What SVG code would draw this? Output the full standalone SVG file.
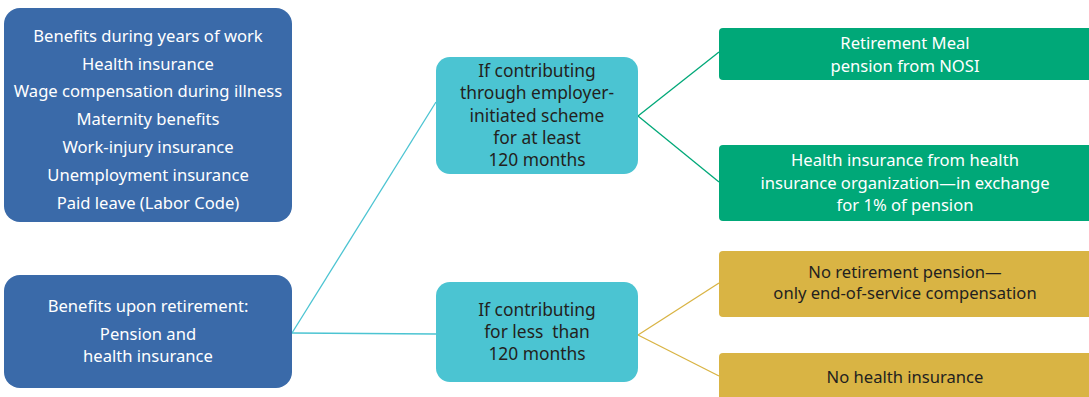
<svg xmlns="http://www.w3.org/2000/svg" width="1089" height="397" viewBox="0 0 1089 397">
<style>
text{font-family:"Noto Sans","Open Sans",sans-serif;font-size:16.6px;text-anchor:middle}
.w{fill:#FFFFFF}
.d{fill:#231F20}
.t{font-size:17.4px}
.blue{fill:#3A6AA9}
.teal{fill:#4BC4D2}
.green{fill:#00A878}
.gold{fill:#D9B444}
.c{fill:none;stroke-width:1.3}
</style>
<rect width="1089" height="397" fill="#FFFFFF"/>
<g id="connectors">
<line class="c" stroke="#4BC4D2" x1="292" y1="333" x2="436" y2="102"/>
<line class="c" stroke="#4BC4D2" x1="292" y1="333" x2="436" y2="334"/>
<line class="c" stroke="#00A878" x1="638" y1="116" x2="719" y2="52"/>
<line class="c" stroke="#00A878" x1="638" y1="116" x2="719" y2="182"/>
<line class="c" stroke="#D9B444" x1="638" y1="335" x2="719" y2="283"/>
<line class="c" stroke="#D9B444" x1="638" y1="335" x2="719" y2="376"/>
</g>
<g id="work">
<rect class="blue" x="4" y="8" width="288" height="214" rx="16"/>
<text class="w" x="148" y="42">Benefits during years of work</text>
<text class="w" x="148" y="70">Health insurance</text>
<text class="w" x="148" y="97">Wage compensation during illness</text>
<text class="w" x="148" y="125">Maternity benefits</text>
<text class="w" x="148" y="153">Work-injury insurance</text>
<text class="w" x="148" y="181">Unemployment insurance</text>
<text class="w" x="148" y="209">Paid leave (Labor Code)</text>
</g>
<g id="retirement">
<rect class="blue" x="4" y="275" width="288" height="113" rx="16"/>
<text class="w" x="148" y="312">Benefits upon retirement:</text>
<text class="w" x="148" y="340">Pension and</text>
<text class="w" x="148" y="362">health insurance</text>
</g>
<g id="atleast">
<rect class="teal" x="436" y="57" width="202" height="117" rx="14"/>
<text class="d t" x="537" y="77">If contributing</text>
<text class="d t" x="537" y="99">through employer-</text>
<text class="d t" x="537" y="122">initiated scheme</text>
<text class="d t" x="537" y="144">for at least</text>
<text class="d t" x="537" y="166">120 months</text>
</g>
<g id="lessthan">
<rect class="teal" x="436" y="282" width="202" height="100" rx="14"/>
<text class="d t" x="537" y="316">If contributing</text>
<text class="d t" x="537" y="338" xml:space="preserve">for less  than</text>
<text class="d t" x="537" y="360">120 months</text>
</g>
<g id="pension">
<rect class="green" x="719" y="28" width="376" height="52" rx="4"/>
<text class="w" x="905" y="49">Retirement Meal</text>
<text class="w" x="905" y="72">pension from NOSI</text>
</g>
<g id="health">
<rect class="green" x="719" y="145" width="376" height="76" rx="4"/>
<text class="w" x="905" y="166">Health insurance from health</text>
<text class="w" x="905" y="189">insurance organization—in exchange</text>
<text class="w" x="905" y="211">for 1% of pension</text>
</g>
<g id="nopension">
<rect class="gold" x="719" y="251" width="376" height="66" rx="4"/>
<text class="d" x="905" y="278">No retirement pension—</text>
<text class="d" x="905" y="299">only end-of-service compensation</text>
</g>
<g id="nohealth">
<rect class="gold" x="719" y="353" width="376" height="54" rx="4"/>
<text class="d" x="905" y="383">No health insurance</text>
</g>
</svg>
